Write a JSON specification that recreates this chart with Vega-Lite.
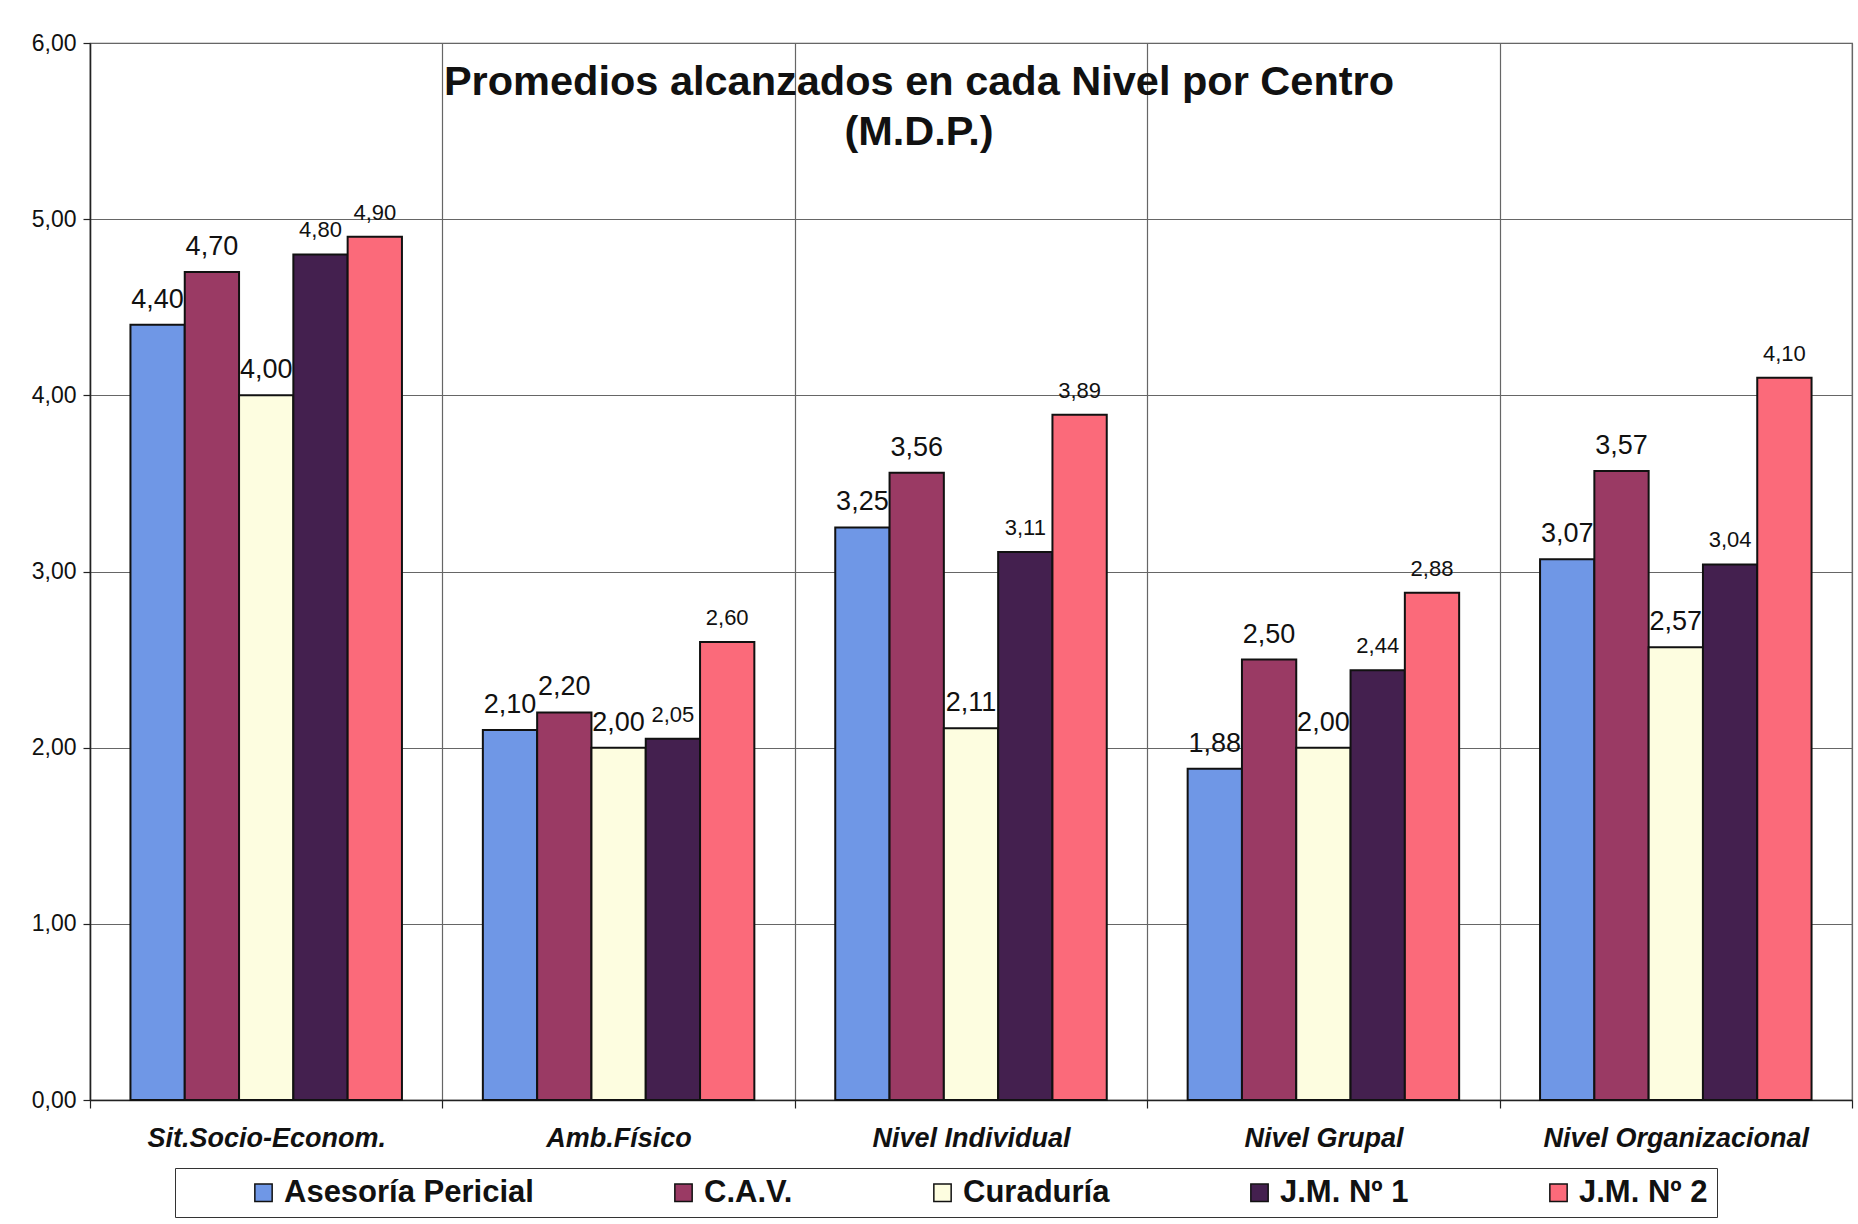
{
  "$schema": "https://vega.github.io/schema/vega-lite/v6.json",
  "autosize": {"type": "none"},
  "width": 1762,
  "height": 1057,
  "padding": {"left": 90, "top": 43, "right": 6, "bottom": 124},
  "background": "white",
  "title": {
    "text": ["Promedios alcanzados en cada Nivel por Centro", "(M.D.P.)"],
    "fontSize": 41.5,
    "fontWeight": "bold",
    "font": "Liberation Sans",
    "color": "#111",
    "anchor": "middle",
    "baseline": "top",
    "lineHeight": 50,
    "offset": -121,
    "dx": -52
  },
  "data": {
    "values": [
      {"nivel": "Sit.Socio-Econom.", "centro": "Asesoría Pericial", "valor": 4.40},
      {"nivel": "Sit.Socio-Econom.", "centro": "C.A.V.", "valor": 4.70},
      {"nivel": "Sit.Socio-Econom.", "centro": "Curaduría", "valor": 4.00},
      {"nivel": "Sit.Socio-Econom.", "centro": "J.M. Nº 1", "valor": 4.80},
      {"nivel": "Sit.Socio-Econom.", "centro": "J.M. Nº 2", "valor": 4.90},
      {"nivel": "Amb.Físico", "centro": "Asesoría Pericial", "valor": 2.10},
      {"nivel": "Amb.Físico", "centro": "C.A.V.", "valor": 2.20},
      {"nivel": "Amb.Físico", "centro": "Curaduría", "valor": 2.00},
      {"nivel": "Amb.Físico", "centro": "J.M. Nº 1", "valor": 2.05},
      {"nivel": "Amb.Físico", "centro": "J.M. Nº 2", "valor": 2.60},
      {"nivel": "Nivel Individual", "centro": "Asesoría Pericial", "valor": 3.25},
      {"nivel": "Nivel Individual", "centro": "C.A.V.", "valor": 3.56},
      {"nivel": "Nivel Individual", "centro": "Curaduría", "valor": 2.11},
      {"nivel": "Nivel Individual", "centro": "J.M. Nº 1", "valor": 3.11},
      {"nivel": "Nivel Individual", "centro": "J.M. Nº 2", "valor": 3.89},
      {"nivel": "Nivel Grupal", "centro": "Asesoría Pericial", "valor": 1.88},
      {"nivel": "Nivel Grupal", "centro": "C.A.V.", "valor": 2.50},
      {"nivel": "Nivel Grupal", "centro": "Curaduría", "valor": 2.00},
      {"nivel": "Nivel Grupal", "centro": "J.M. Nº 1", "valor": 2.44},
      {"nivel": "Nivel Grupal", "centro": "J.M. Nº 2", "valor": 2.88},
      {"nivel": "Nivel Organizacional", "centro": "Asesoría Pericial", "valor": 3.07},
      {"nivel": "Nivel Organizacional", "centro": "C.A.V.", "valor": 3.57},
      {"nivel": "Nivel Organizacional", "centro": "Curaduría", "valor": 2.57},
      {"nivel": "Nivel Organizacional", "centro": "J.M. Nº 1", "valor": 3.04},
      {"nivel": "Nivel Organizacional", "centro": "J.M. Nº 2", "valor": 4.10}
    ]
  },
  "encoding": {
    "x": {
      "field": "nivel",
      "type": "nominal",
      "sort": ["Sit.Socio-Econom.", "Amb.Físico", "Nivel Individual", "Nivel Grupal", "Nivel Organizacional"],
      "scale": {"paddingInner": 0, "paddingOuter": 0},
      "axis": {
        "title": null,
        "labelAngle": 0,
        "labelFont": "Liberation Sans",
        "labelFontSize": 27,
        "labelFontWeight": "bold",
        "labelFontStyle": "italic",
        "labelColor": "#111",
        "labelBaseline": "middle",
        "labelPadding": 30,
        "labelLimit": 400,
        "tickBand": "extent",
        "ticks": true,
        "tickSize": 8,
        "tickColor": "#222",
        "tickWidth": 1.2,
        "grid": true,
        "gridColor": "#666",
        "gridWidth": 1.2,
        "domainColor": "#222",
        "domainWidth": 1.5
      }
    },
    "xOffset": {
      "field": "centro",
      "type": "nominal",
      "sort": ["Asesoría Pericial", "C.A.V.", "Curaduría", "J.M. Nº 1", "J.M. Nº 2"],
      "scale": {"paddingInner": 0, "paddingOuter": 0.745}
    },
    "y": {
      "field": "valor",
      "type": "quantitative",
      "scale": {"domain": [0, 6], "nice": false},
      "axis": {
        "title": null,
        "values": [0, 1, 2, 3, 4, 5, 6],
        "format": ".2f",
        "labelFont": "Liberation Sans",
        "labelFontSize": 23,
        "labelColor": "#111",
        "labelPadding": 7,
        "tickSize": 7,
        "tickColor": "#222",
        "tickWidth": 1.2,
        "grid": true,
        "gridColor": "#666",
        "gridWidth": 1.2,
        "domainColor": "#222",
        "domainWidth": 1.5
      }
    }
  },
  "layer": [
    {
      "mark": {"type": "bar", "stroke": "#111", "strokeWidth": 2},
      "encoding": {
        "color": {
          "field": "centro",
          "type": "nominal",
          "sort": ["Asesoría Pericial", "C.A.V.", "Curaduría", "J.M. Nº 1", "J.M. Nº 2"],
          "scale": {
            "domain": ["Asesoría Pericial", "C.A.V.", "Curaduría", "J.M. Nº 1", "J.M. Nº 2"],
            "range": ["#6f97e6", "#9a3a64", "#fdfde0", "#44204f", "#fb6a7a"]
          },
          "legend": {
            "title": "\u00a0",
            "titleOrient": "left",
            "titleFontSize": 2,
            "titlePadding": 64,
            "orient": "none",
            "direction": "horizontal",
            "legendX": 85,
            "legendY": 1125,
            "padding": 9,
            "strokeColor": "#333",
            "fillColor": "white",
            "symbolType": "square",
            "symbolSize": 300,
            "symbolStrokeColor": "#111",
            "symbolStrokeWidth": 1.5,
            "symbolOpacity": 1,
            "labelFont": "Liberation Sans",
            "labelFontSize": 31,
            "labelFontWeight": "bold",
            "labelColor": "#111",
            "labelOffset": 5,
            "labelLimit": 400,
            "columnPadding": 134
          }
        }
      }
    },
    {
      "mark": {"type": "text", "baseline": "alphabetic", "dy": -17, "font": "Liberation Sans", "color": "#111"},
      "encoding": {
        "text": {"field": "valor", "type": "quantitative", "format": ".2f"},
        "size": {
          "condition": {"test": "datum.centro === 'J.M. Nº 1' || datum.centro === 'J.M. Nº 2'", "value": 22},
          "value": 27
        }
      }
    }
  ],
  "config": {
    "locale": {
      "number": {"decimal": ",", "thousands": ".", "grouping": [3], "currency": ["", " €"]}
    },
    "view": {"stroke": "#555", "strokeWidth": 1.2},
    "font": "Liberation Sans"
  }
}
